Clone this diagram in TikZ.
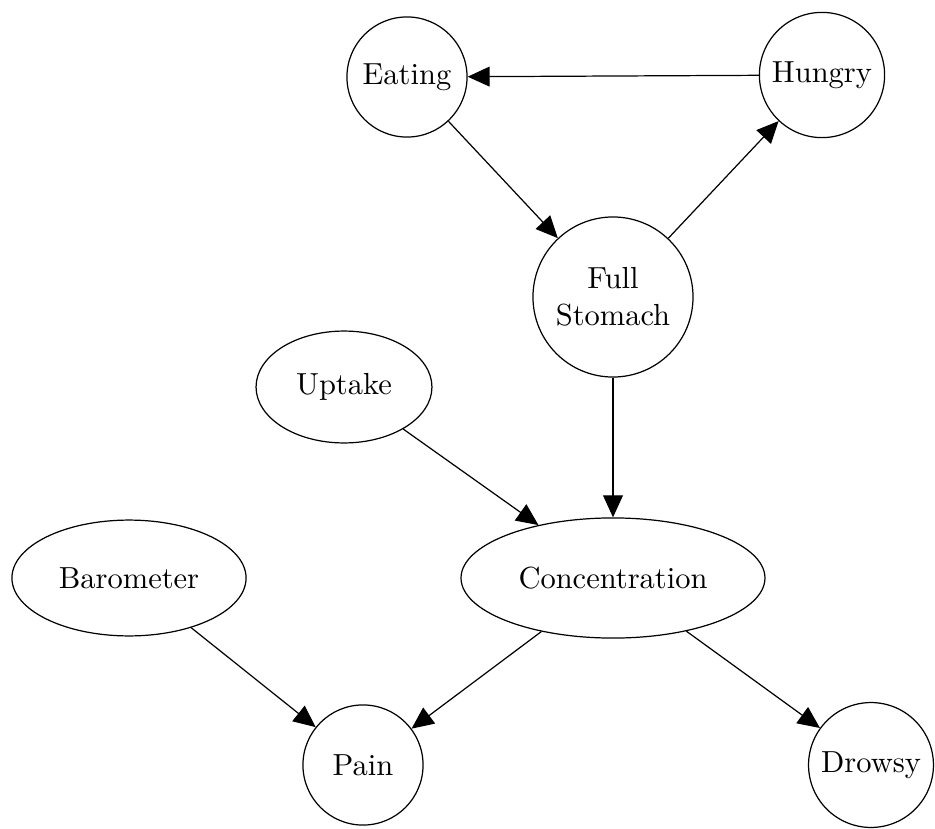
\documentclass[tikz,border=0pt]{standalone}
\usepackage{tikz}
\usetikzlibrary{
    arrows.meta,
    shapes.geometric,
}
\tikzstyle{var}=[draw,circle,inner sep=1mm]
\tikzstyle{evar}=[draw,ellipse,inner sep=1mm]
\tikzstyle{link}=[-{Triangle[length=7.2pt,width=6.5pt]}]

\begin{document}
\begin{tikzpicture}[x=0.328pt,y=-0.328pt]
    \useasboundingbox (0,0) rectangle (935,829);
    \node[var,minimum size=39.4pt] (eating) at (407,77) {Eating};
    \node[var,minimum size=40.7pt] (hungry) at (822,75) {Hungry};
    \node[var,minimum size=52.5pt,align=center] (full) at (613,297) {Full\\Stomach};
    \node[evar,minimum width=57.7pt,minimum height=36.7pt] (uptake) at (344,387) {Uptake};
    \node[evar,minimum width=76.8pt,minimum height=38pt] (baro) at (129,578) {Barometer};
    \node[evar,minimum width=99.7pt,minimum height=39.4pt] (conc) at (613,578) {Concentration};
    \node[var,minimum size=39.4pt] (pain) at (363,765) {Pain};
    \node[var,minimum size=40.7pt] (drowsy) at (871,765) {Drowsy};

    \draw[link] (hungry) -- (eating);
    \draw[link] (eating) -- (full);
    \draw[link] (full) -- (hungry);
    \draw[link] (full) -- (conc);
    \draw[link] (uptake) -- (conc);
    \draw[link] (baro) -- (pain);
    \draw[link] (conc) -- (pain);
    \draw[link] (conc) -- (drowsy);
\end{tikzpicture}
\end{document}
